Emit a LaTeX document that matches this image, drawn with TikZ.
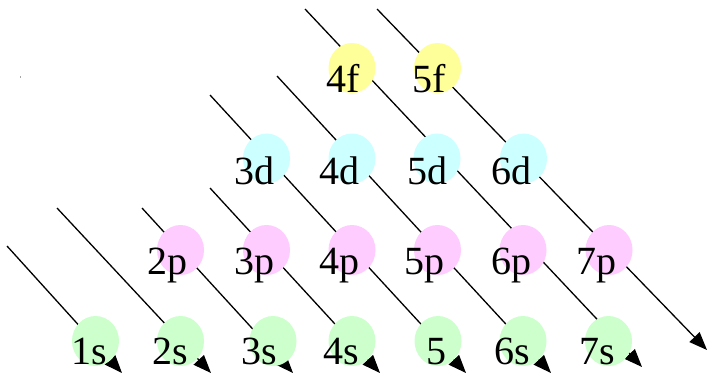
\documentclass[tikz,border=0pt]{standalone}
\usepackage{fontspec}
\setmainfont{Liberation Serif}
\usetikzlibrary{shapes.geometric,arrows.meta}
\definecolor{sgreen}{RGB}{204,255,204}
\definecolor{ppink}{RGB}{255,204,255}
\definecolor{dcyan}{RGB}{204,255,255}
\definecolor{fyellow}{RGB}{255,255,153}
\tikzset{
  orb/.style={ellipse, minimum width=47pt, minimum height=50pt, inner sep=0pt, draw=none},
  sorb/.style={orb, fill=sgreen},
  porb/.style={orb, fill=ppink},
  dorb/.style={orb, fill=dcyan},
  forb/.style={orb, fill=fyellow},
  lab/.style={anchor=base west, inner sep=0pt, font=\fontsize{40}{40}\selectfont},
  diag/.style={line width=1.3pt, -{Triangle[length=18pt,width=14pt]}}
}
\begin{document}
\begin{tikzpicture}[x=1pt,y=-1pt]
\useasboundingbox (0,0) rectangle (708,376);
\fill[white] (0,0) rectangle (708,376);
% diagonal start and end points
\coordinate (a1) at (7,246);   \coordinate (b1) at (122,373);
\coordinate (a2) at (57,208);  \coordinate (b2) at (211,373);
\coordinate (a3) at (142,208); \coordinate (b3) at (293,373);
\coordinate (a4) at (210,188); \coordinate (b4) at (380,373);
\coordinate (a5) at (210,95);  \coordinate (b5) at (466,373);
\coordinate (a6) at (277,76);  \coordinate (b6) at (551,373);
\coordinate (a7) at (305,9);   \coordinate (b7) at (642,367);
\coordinate (a8) at (377,9);   \coordinate (b8) at (707,350);
\foreach \i in {1,...,8} { \draw[diag] (a\i) -- (b\i); }
% orbitals
\node[sorb] (s1) at (95.5,341) {};
\node[sorb] (s2) at (180.5,341) {};
\node[sorb] (s3) at (273,341) {};
\node[sorb] (s4) at (352,341) {};
\node[sorb] (s5) at (438,341) {};
\node[sorb] (s6) at (523,341) {};
\node[sorb] (s7) at (608.5,341) {};
\node[porb] (p2) at (180.5,250) {};
\node[porb] (p3) at (266.5,250) {};
\node[porb] (p4) at (352,250) {};
\node[porb] (p5) at (437.5,250) {};
\node[porb] (p6) at (523,250) {};
\node[porb] (p7) at (609,250) {};
\node[dorb] (d3) at (266.5,158.5) {};
\node[dorb] (d4) at (352,158.5) {};
\node[dorb] (d5) at (437,158.5) {};
\node[dorb] (d6) at (523.5,158.5) {};
\node[forb] (f4) at (352,68) {};
\node[forb] (f5) at (437.5,68) {};
% labels
\node[lab] (t1s) at (71,364) {1s};
\node[lab] (t2s) at (152,364) {2s};
\node[lab] (t3s) at (241,364) {3s};
\node[lab] (t4s) at (323,364) {4s};
\node[lab] (t5s) at (426,364) {5};
\node[lab] (t6s) at (494,364) {6s};
\node[lab] (t7s) at (579,364) {7s};
\node[lab] (t2p) at (147,274) {2p};
\node[lab] (t3p) at (234,274) {3p};
\node[lab] (t4p) at (319,274) {4p};
\node[lab] (t5p) at (404,274) {5p};
\node[lab] (t6p) at (491,274) {6p};
\node[lab] (t7p) at (576,274) {7p};
\node[lab] (t3d) at (234,184) {3d};
\node[lab] (t4d) at (319,184) {4d};
\node[lab] (t5d) at (407,184) {5d};
\node[lab] (t6d) at (491,184) {6d};
\node[lab] (t4f) at (326,92) {4f};
\node[lab] (t5f) at (412,92) {5f};
% small speck
\fill[gray!70] (19.5,76) rectangle (20.7,78.2);
\end{tikzpicture}
\end{document}
